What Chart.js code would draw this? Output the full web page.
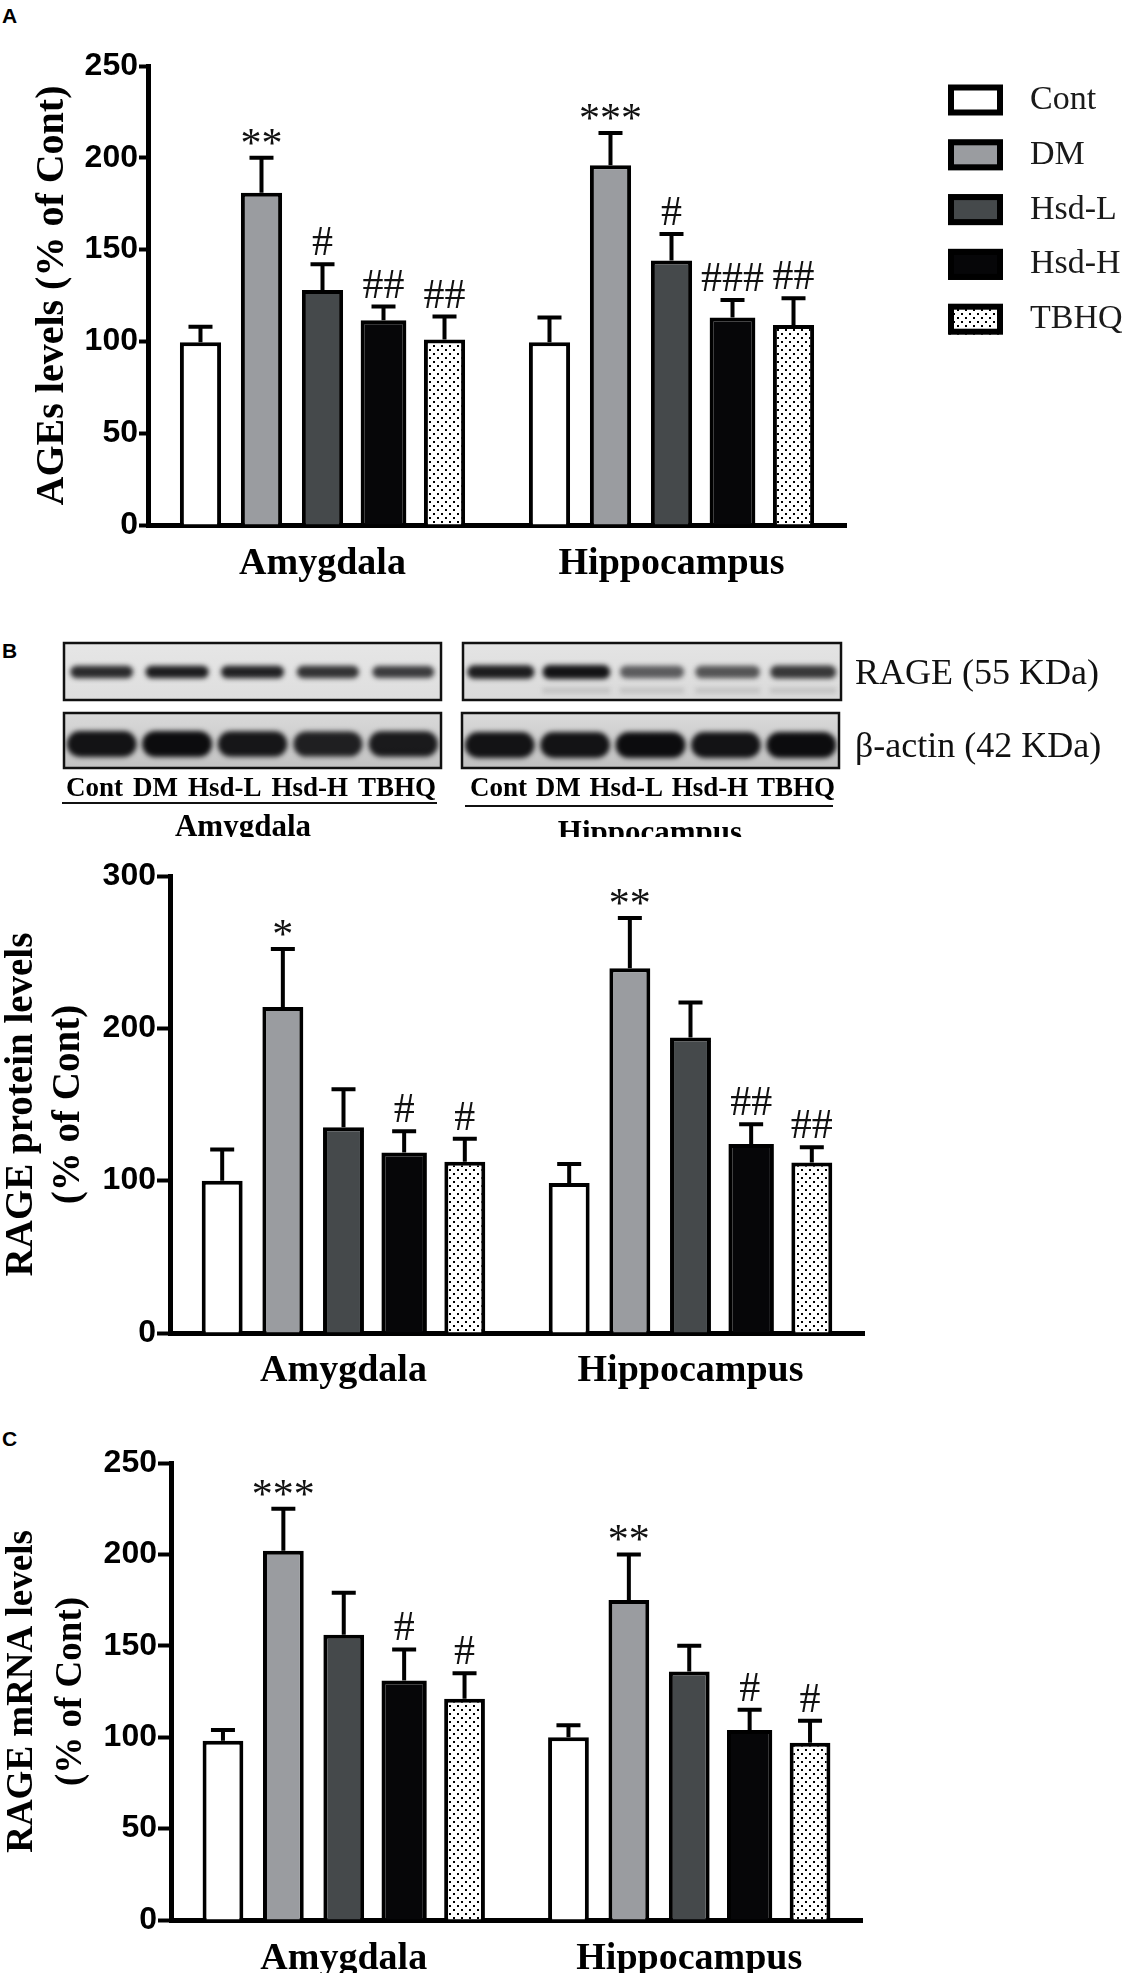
<!DOCTYPE html>
<html>
<head>
<meta charset="utf-8">
<script src="https://cdn.jsdelivr.net/npm/chart.js@4.4.1/dist/chart.umd.min.js"></script>
<style>
  body { margin: 0; background: #fff; }
  #page { position: relative; width: 1130px; height: 1973px; overflow: hidden; background: #fff; }
  .abs { position: absolute; }
  .panel { font-family: "Liberation Sans", Arial, sans-serif; font-weight: bold; font-size: 21px; line-height: 1; color: #000; }
  .blotlab { font-family: "Liberation Serif", serif; font-size: 36px; line-height: 1; color: #111; white-space: nowrap; }
  .lanes { display: flex; justify-content: space-between; font-family: "Liberation Serif", serif; font-weight: bold; font-size: 27px; line-height: 1; color: #000; }
  .rule { border-top: 2px solid #111; height: 0; }
  .grp { font-family: "Liberation Serif", serif; font-weight: bold; font-size: 31px; line-height: 1; color: #000; transform: translateX(-50%); white-space: nowrap; }
</style>
</head>
<body>
<div id="page">
  <div class="abs panel" style="left:2px;top:5px;">A</div>
  <div class="abs panel" style="left:2px;top:640px;">B</div>
  <div class="abs panel" style="left:2px;top:1428px;">C</div>

  <canvas id="chartA" class="abs" style="left:0;top:0;" width="1130" height="600"></canvas>

  <canvas id="blot" class="abs" style="left:0;top:630px;" width="860" height="150"></canvas>
  <div class="abs blotlab" style="left:855px;top:654px;">RAGE (55 KDa)</div>
  <div class="abs blotlab" style="left:855px;top:727px;">β-actin (42 KDa)</div>
  <div id="lanesA" class="abs lanes" style="left:66px;top:774px;width:370px;"></div>
  <div id="lanesH" class="abs lanes" style="left:470px;top:774px;width:365px;"></div>
  <div class="abs rule" style="left:62px;top:802px;width:375px;"></div>
  <div class="abs rule" style="left:465px;top:805px;width:368px;"></div>
  <div class="abs" style="left:0;top:805px;width:900px;height:32px;overflow:hidden;">
    <div id="grpA" class="abs grp" style="left:243px;top:5px;"></div>
    <div id="grpH" class="abs grp" style="left:650px;top:11px;"></div>
  </div>

  <canvas id="chartB" class="abs" style="left:0;top:840px;" width="900" height="560"></canvas>
  <canvas id="chartC" class="abs" style="left:0;top:1400px;" width="900" height="573"></canvas>
</div>

<script>
const groups = ['Amygdala', 'Hippocampus'];
const series = ['Cont', 'DM', 'Hsd-L', 'Hsd-H', 'TBHQ'];
const fills = ['#ffffff', '#9a9ca0', '#45494b', '#060608', 'dots'];

// A: AGEs levels, one row per series: [Amygdala, Hippocampus]
const agesMean = [[99.5, 99.5], [181, 196], [128, 144], [111.5, 113], [101, 109]];
const agesSem = [[8.5, 13.5], [19, 17.5], [14, 14.5], [7.5, 9.5], [12.5, 14.5]];
const agesMarks = [['', ''], ['**', '***'], ['#', '#'], ['##', '###'], ['##', '##']];
const agesTicks = { max: 250, step: 50 };

// B: RAGE protein levels
const protMean = [[100, 98.5], [214, 239.5], [135, 194], [118.5, 124], [112.5, 112]];
const protSem = [[20.5, 12.5], [38, 33], [25, 23], [14, 13], [15, 10]];
const protMarks = [['', ''], ['*', '**'], ['', ''], ['#', '##'], ['#', '##']];
const protTicks = { max: 300, step: 100 };

// C: RAGE mRNA levels
const mrnaMean = [[98, 100], [202, 175], [156, 136], [131, 104], [121, 97]];
const mrnaSem = [[6, 6.5], [23, 25], [23, 14], [17, 11], [14, 12]];
const mrnaMarks = [['', ''], ['***', '**'], ['', ''], ['#', '#'], ['#', '#']];
const mrnaTicks = { max: 250, step: 50 };

// western blot band strength per lane (0..1)
const ragAmyg = [0.86, 0.92, 0.9, 0.82, 0.78];
const ragHipp = [0.92, 0.97, 0.62, 0.66, 0.8];
const actAmyg = [0.97, 1, 0.95, 0.9, 0.93];
const actHipp = [0.97, 0.97, 1, 0.97, 1];

function dotPattern() {
  const c = document.createElement('canvas');
  c.width = 8; c.height = 8;
  const g = c.getContext('2d');
  g.fillStyle = '#fff';
  g.fillRect(0, 0, 8, 8);
  g.fillStyle = '#000';
  g.fillRect(1, 1, 2, 2);
  g.fillRect(5, 5, 2, 2);
  return g.createPattern(c, 'repeat');
}
const dots = dotPattern();

const errorBars = {
  id: 'errorBars',
  afterDatasetsDraw(chart) {
    const ctx = chart.ctx;
    const y = chart.scales.y;
    chart.data.datasets.forEach((ds, i) => {
      chart.getDatasetMeta(i).data.forEach((bar, j) => {
        const top = y.getPixelForValue(ds.data[j] + ds.sem[j]);
        ctx.save();
        ctx.strokeStyle = '#000';
        ctx.lineWidth = 4;
        ctx.beginPath();
        ctx.moveTo(bar.x, bar.y);
        ctx.lineTo(bar.x, top);
        ctx.moveTo(bar.x - 12, top);
        ctx.lineTo(bar.x + 12, top);
        ctx.stroke();
        const m = ds.marks[j];
        if (m) {
          ctx.fillStyle = '#111';
          ctx.font = '42px "Liberation Serif"';
          ctx.textAlign = 'center';
          ctx.textBaseline = 'alphabetic';
          ctx.fillText(m, bar.x, top - (m[0] === '*' ? 1 : 9));
        }
        ctx.restore();
      });
    });
  }
};

const sideLegend = {
  id: 'sideLegend',
  afterDraw(chart, args, opts) {
    if (!opts.show) return;
    const ctx = chart.ctx;
    chart.data.datasets.forEach((ds, i) => {
      const cy = opts.top + i * opts.step;
      ctx.save();
      ctx.fillStyle = ds.backgroundColor;
      ctx.fillRect(opts.x, cy - 15.5, 55, 31);
      ctx.lineWidth = 6;
      ctx.strokeStyle = '#000';
      ctx.strokeRect(opts.x + 3, cy - 12.5, 49, 25);
      ctx.fillStyle = '#1a1a1a';
      ctx.font = '34px "Liberation Serif"';
      ctx.textBaseline = 'middle';
      ctx.fillText(ds.label, opts.x + 82, cy);
      ctx.restore();
    });
  }
};

function buildChart(id, cfg) {
  return new Chart(document.getElementById(id), {
    type: 'bar',
    data: {
      labels: groups,
      datasets: series.map((s, i) => ({
        label: s,
        data: cfg.mean[i],
        sem: cfg.sem[i],
        marks: cfg.marks[i],
        backgroundColor: fills[i] === 'dots' ? dots : fills[i],
        borderColor: '#000',
        borderWidth: 4,
        barPercentage: i === 3 ? 0.75 : 0.675,
        categoryPercentage: 0.874
      }))
    },
    options: {
      responsive: false,
      animation: false,
      layout: { padding: cfg.pad },
      plugins: {
        legend: { display: false },
        tooltip: { enabled: false },
        sideLegend: cfg.legend || { show: false }
      },
      scales: {
        x: {
          z: 1,
          grid: { display: false },
          border: { width: 5, color: '#000' },
          ticks: {
            color: '#000',
            padding: cfg.xPad,
            font: { family: 'Liberation Serif', weight: 'bold', size: 38 }
          },
          afterFit: s => { s.height = cfg.xH; }
        },
        y: {
          min: 0,
          max: cfg.ticks.max,
          ticks: {
            stepSize: cfg.ticks.step,
            color: '#000',
            padding: 1,
            font: { family: 'Liberation Sans', weight: 'bold', size: 32 }
          },
          grid: { drawOnChartArea: false, tickLength: cfg.tickLen, tickWidth: 4, tickColor: '#000' },
          border: { width: 5, color: '#000' },
          title: {
            display: true,
            text: cfg.title,
            color: '#000',
            padding: { top: cfg.titlePad, bottom: 0 },
            font: { family: 'Liberation Serif', weight: 'bold', size: cfg.titleSize, lineHeight: cfg.titleLH }
          },
          afterFit: s => { s.width = cfg.yW; }
        }
      }
    },
    plugins: [errorBars, sideLegend]
  });
}

buildChart('chartA', {
  mean: agesMean, sem: agesSem, marks: agesMarks, ticks: agesTicks,
  title: 'AGEs levels (% of Cont)', titleSize: 40, titleLH: 1.2, titlePad: 29,
  pad: { top: 66, right: 284, left: 0, bottom: 0 }, xH: 75, yW: 148, xPad: 8, tickLen: 9,
  legend: { show: true, x: 948, top: 100, step: 54.8 }
});

buildChart('chartB', {
  mean: protMean, sem: protSem, marks: protMarks, ticks: protTicks,
  title: ['RAGE protein levels', '(% of Cont)'], titleSize: 39, titleLH: 1.2, titlePad: -1,
  pad: { top: 36, right: 36, left: 0, bottom: 0 }, xH: 67, yW: 170, xPad: 7, tickLen: 13
});

buildChart('chartC', {
  mean: mrnaMean, sem: mrnaSem, marks: mrnaMarks, ticks: mrnaTicks,
  title: ['RAGE mRNA levels', '(% of Cont)'], titleSize: 37, titleLH: 1.32, titlePad: -2,
  pad: { top: 63, right: 38, left: 0, bottom: 0 }, xH: 53, yW: 171, xPad: 8, tickLen: 13
});

// western blot strips
(function drawBlot() {
  const ctx = document.getElementById('blot').getContext('2d');
  const oy = 630;
  const strips = [
    { x: 64, y: 643, w: 377, h: 57, bands: ragAmyg, bh: 13, bw: 64, cy: 672, bg: ['#e6e6e6', '#dedede'] },
    { x: 463, y: 643, w: 378, h: 57, bands: ragHipp, bh: 14, bw: 68, cy: 672, bg: ['#e4e4e4', '#dadada'], ghost: true },
    { x: 64, y: 713, w: 377, h: 55, bands: actAmyg, bh: 26, bw: 70, cy: 744, bg: ['#d9d9d9', '#c2c2c2'] },
    { x: 462, y: 713, w: 377, h: 55, bands: actHipp, bh: 26, bw: 70, cy: 745, bg: ['#dadada', '#c0c0c0'] }
  ];
  strips.forEach(s => {
    const top = s.y - oy;
    const grad = ctx.createLinearGradient(0, top, 0, top + s.h);
    grad.addColorStop(0, s.bg[0]);
    grad.addColorStop(1, s.bg[1]);
    ctx.fillStyle = grad;
    ctx.fillRect(s.x, top, s.w, s.h);
    ctx.save();
    ctx.beginPath();
    ctx.rect(s.x, top, s.w, s.h);
    ctx.clip();
    ctx.filter = 'blur(2.5px)';
    s.bands.forEach((a, i) => {
      const cx = s.x + s.w * (i + 0.5) / 5;
      const w = s.bw * (0.85 + 0.15 * a);
      const h = s.bh * (0.7 + 0.3 * a);
      ctx.fillStyle = 'rgba(12,12,14,' + a + ')';
      ctx.beginPath();
      ctx.roundRect(cx - w / 2, s.cy - oy - h / 2, w, h, h / 2);
      ctx.fill();
      if (s.ghost && i > 0) {
        ctx.fillStyle = 'rgba(60,60,60,0.18)';
        ctx.fillRect(cx - w / 2, s.cy - oy + 16, w, 5);
      }
    });
    ctx.restore();
    ctx.lineWidth = 2.5;
    ctx.strokeStyle = '#111';
    ctx.strokeRect(s.x, top, s.w, s.h);
  });
})();

// lane and region labels under the blot
['lanesA', 'lanesH'].forEach(id => {
  const row = document.getElementById(id);
  series.forEach(s => {
    const span = document.createElement('span');
    span.textContent = s;
    row.appendChild(span);
  });
});
document.getElementById('grpA').textContent = groups[0];
document.getElementById('grpH').textContent = groups[1];
</script>
</body>
</html>
